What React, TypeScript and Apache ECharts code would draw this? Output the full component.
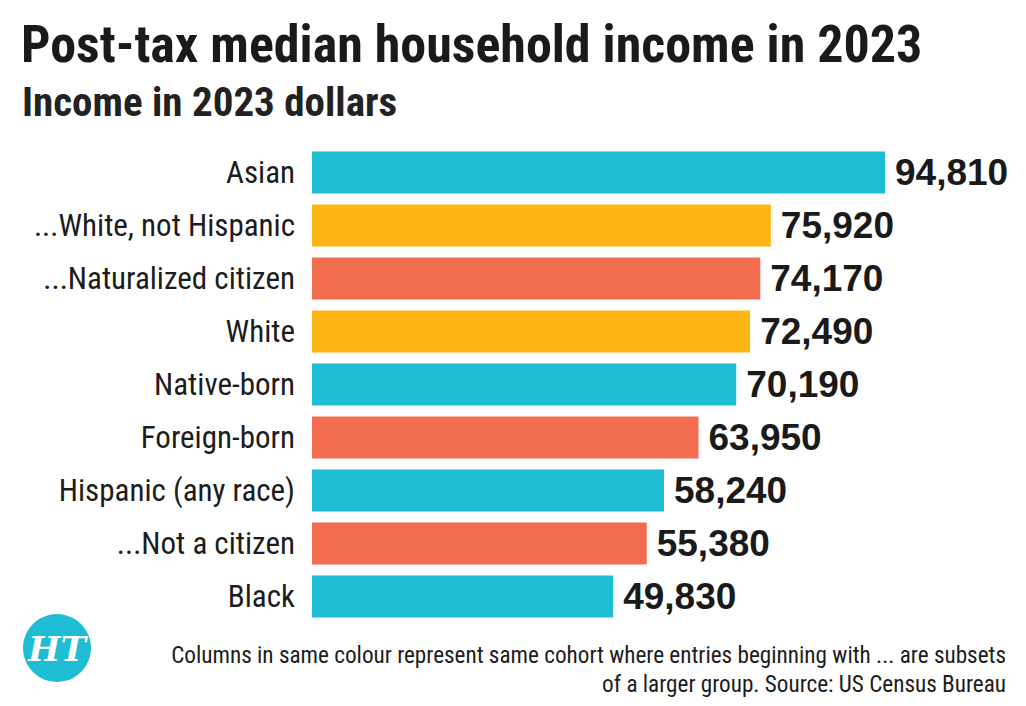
import React, { useEffect, useRef } from "react";
import * as echarts from "echarts";

const categories = [
  "Asian",
  "...White, not Hispanic",
  "...Naturalized citizen",
  "White",
  "Native-born",
  "Foreign-born",
  "Hispanic (any race)",
  "...Not a citizen",
  "Black",
];
const values = [94810, 75920, 74170, 72490, 70190, 63950, 58240, 55380, 49830];
const cohorts = ["race", "white", "nativity", "white", "race", "nativity", "race", "nativity", "race"];
const cohortColors: Record<string, string> = {
  race: "#1EBDD4",
  white: "#FDB614",
  nativity: "#F26D4F",
};
const title = "Post-tax median household income in 2023";
const subtitle = "Income in 2023 dollars";
const note1 = "Columns in same colour represent same cohort where entries beginning with ... are subsets";
const note2 = "of a larger group. Source: US Census Bureau";

const NARROW = "'Roboto Condensed', 'DejaVu Sans Condensed', sans-serif";
const BOLD = "'Liberation Sans', Arial, sans-serif";

export default function App() {
  const ref = useRef<HTMLDivElement>(null);
  useEffect(() => {
    if (!ref.current) return;
    const chart = echarts.init(ref.current, null, { renderer: "svg" });
    chart.setOption({
      animation: false,
      backgroundColor: "#ffffff",
      grid: {
        left: 312,
        top: 146,
        height: 477,
        right: 109.6,
        containLabel: false,
        outerBoundsMode: "none",
      },
      xAxis: {
        type: "value",
        min: 0,
        max: 100000,
        show: false,
      },
      yAxis: {
        type: "category",
        data: categories,
        inverse: true,
        axisLine: { show: false },
        axisTick: { show: false },
        axisLabel: {
          margin: 17,
          fontSize: 31,
          fontFamily: NARROW,
          color: "#1c1c1c",
        },
      },
      series: [
        {
          type: "bar",
          barWidth: 42,
          data: values.map((v, i) => ({
            value: v,
            itemStyle: { color: cohortColors[cohorts[i]] },
          })),
          label: {
            show: true,
            position: "right",
            distance: 10,
            fontSize: 37,
            fontWeight: "bold",
            fontFamily: BOLD,
            color: "#1a1a1a",
            formatter: (p: any) => Number(p.value).toLocaleString("en-US"),
          },
        },
      ],
      graphic: [
        {
          type: "text",
          left: 21,
          top: 18,
          style: {
            text: title,
            fontSize: 52,
            fontWeight: "bold",
            fontFamily: NARROW,
            fill: "#1a1a1a",
          },
        },
        {
          type: "text",
          left: 22,
          top: 81,
          style: {
            text: subtitle,
            fontSize: 41,
            fontWeight: "bold",
            fontFamily: NARROW,
            fill: "#222222",
          },
        },
        {
          type: "circle",
          shape: { cx: 57, cy: 648, r: 34 },
          style: { fill: "#1EBDD4" },
        },
        {
          type: "text",
          x: 57,
          y: 649,
          style: {
            text: "HT",
            fontSize: 34,
            fontWeight: "bold",
            fontStyle: "italic",
            fontFamily: "'DejaVu Serif', serif",
            fill: "#ffffff",
            align: "center",
            verticalAlign: "middle",
          },
        },
        {
          type: "text",
          x: 1006,
          y: 655,
          style: {
            text: note1,
            fontSize: 23.2,
            fontFamily: NARROW,
            fill: "#1c1c1c",
            align: "right",
            verticalAlign: "middle",
          },
        },
        {
          type: "text",
          x: 1006,
          y: 684,
          style: {
            text: note2,
            fontSize: 23.2,
            fontFamily: NARROW,
            fill: "#1c1c1c",
            align: "right",
            verticalAlign: "middle",
          },
        },
      ],
    });
    return () => chart.dispose();
  }, []);
  return (
    <div
      ref={ref}
      style={{ position: "fixed", left: 0, top: 0, width: 1026, height: 706 }}
    />
  );
}
